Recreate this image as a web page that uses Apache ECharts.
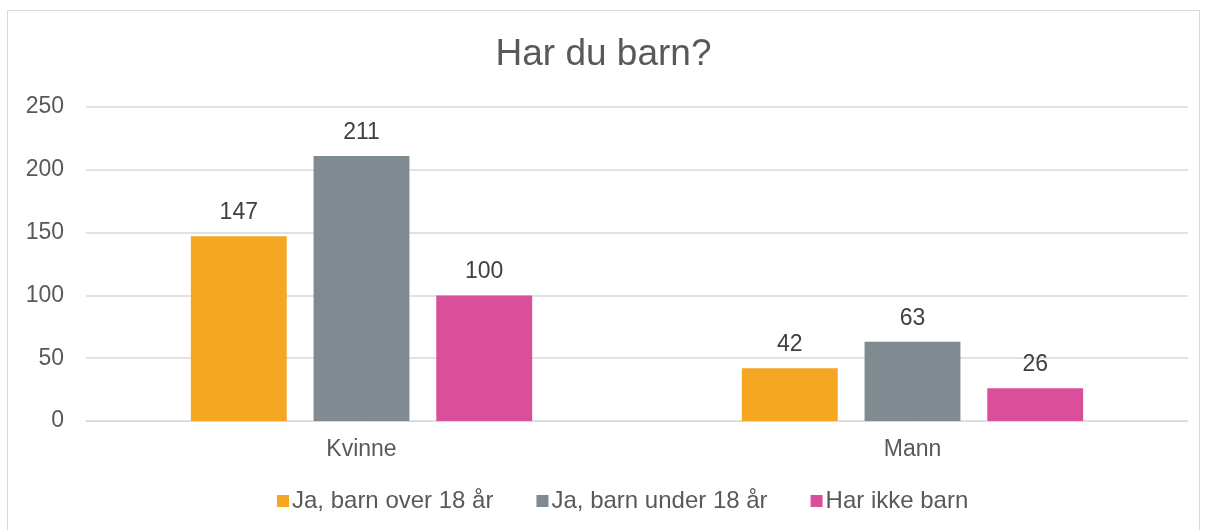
<!DOCTYPE html>
<html>
<head>
<meta charset="utf-8">
<script src="https://cdn.jsdelivr.net/npm/echarts@6/dist/echarts.min.js"></script>
<style>
  html, body { margin: 0; padding: 0; background: #fff; }
  #chart { position: absolute; left: 7px; top: 10px; width: 1193px; height: 530px;
           border: 1px solid #d9d9d9; box-sizing: border-box; }
</style>
</head>
<body>
<div id="chart"></div>
<script>
const categories = ['Kvinne', 'Mann'];
const seriesNames = ['Ja, barn over 18 år', 'Ja, barn under 18 år', 'Har ikke barn'];
const overEighteen = [147, 42];
const underEighteen = [211, 63];
const noChildren = [100, 26];
const colors = ['#F5A623', '#7F8A91', '#DA4F9A'];

const chart = echarts.init(document.getElementById('chart'));
const font = 'Liberation Sans, Arial, sans-serif';

const option = {
    textStyle: { fontFamily: font },
    title: {
        text: 'Har du barn?',
        left: 'center',
        top: 20,
        textStyle: { fontSize: 37, fontWeight: 'normal', color: '#595959', fontFamily: font }
    },
    legend: {
        bottom: 21,
        left: 264,
        itemWidth: 12,
        itemHeight: 12,
        itemGap: 43,
        icon: 'rect',
        textStyle: { fontSize: 24, color: '#595959', fontFamily: font, padding: [0, 0, 0, -2] },
        data: seriesNames
    },
    grid: { left: 78, right: 11, top: 96, bottom: 118 },
    xAxis: {
        type: 'category',
        data: categories,
        axisLine: { lineStyle: { color: '#d9d9d9' } },
        axisTick: { show: false },
        axisLabel: { fontSize: 23, color: '#595959', margin: 17 }
    },
    yAxis: {
        type: 'value',
        min: 0,
        max: 250,
        interval: 50,
        axisLine: { show: false },
        axisTick: { show: false },
        axisLabel: { fontSize: 23, color: '#595959', margin: 22 },
        splitLine: { lineStyle: { color: '#d9d9d9', width: 1.5 } }
    },
    series: [overEighteen, underEighteen, noChildren].map((data, i) => ({
        name: seriesNames[i],
        type: 'bar',
        data: data,
        barWidth: '17.4%',
        barGap: '28%',
        itemStyle: { color: colors[i] },
        label: { show: true, position: 'top', distance: 12, fontSize: 23, color: '#404040' }
    }))
};
chart.setOption(option);
</script>
</body>
</html>
